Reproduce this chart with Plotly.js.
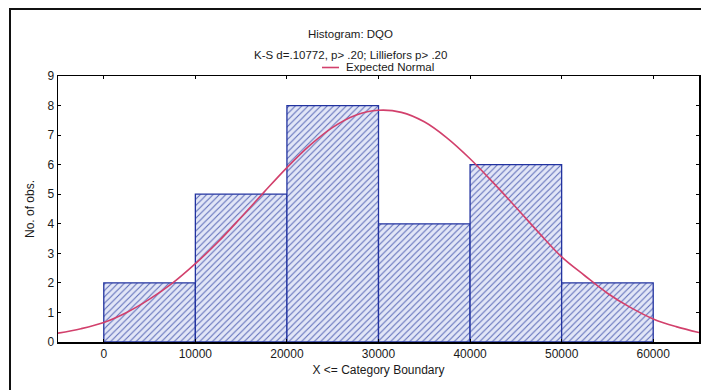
<!DOCTYPE html>
<html>
<head>
<meta charset="utf-8">
<script src="https://cdn.plot.ly/plotly-3.0.1.min.js"></script>
<style>
  html, body { margin: 0; padding: 0; background: #ffffff; }
  #chart { width: 701px; height: 390px; }
</style>
</head>
<body>
<div id="chart"></div>
<script>
// Histogram of DQO: lower bound of each category and its count
const binStarts = [0, 10000, 20000, 30000, 40000, 50000];
const binWidth = 10000;
const counts = [2, 5, 8, 4, 6, 2];

// Expected normal curve, sampled along the x axis
const normalX = [-5000, -2500, 0, 2500, 5000, 7500, 10000, 12500, 15000, 17500,
                 20000, 22500, 25000, 27500, 30000, 32500, 35000, 37500, 40000,
                 42500, 45000, 47500, 50000, 52500, 55000, 57500, 60000, 62500, 65000];
const normalY = [0.30, 0.45, 0.66, 1.00, 1.45, 1.99, 2.65, 3.39, 4.22, 5.07,
                 5.90, 6.65, 7.26, 7.67, 7.84, 7.77, 7.45, 6.90, 6.20,
                 5.40, 4.56, 3.70, 2.88, 2.25, 1.65, 1.17, 0.78, 0.52, 0.32];

const xTicks = [0, 10000, 20000, 30000, 40000, 50000, 60000];
const yTicks = [0, 1, 2, 3, 4, 5, 6, 7, 8, 9];

const titleText = 'Histogram: DQO';
const subtitleText = 'K-S d=.10772, p> .20; Lilliefors p> .20';
const legendText = 'Expected Normal';

const FONT = 'Arial, "Liberation Sans", sans-serif';
const INK = '#1a1a1a';
const CURVE = '#d2406c';

const bars = {
  type: 'bar',
  x: binStarts,
  y: counts,
  width: binWidth,
  offset: 0,
  marker: {
    color: '#e2e6f7',
    line: { color: '#2233a0', width: 1.3 },
    pattern: { shape: '/', fgcolor: '#5868b6', bgcolor: '#e2e6f7', size: 4.5, solidity: 0.22 }
  },
  showlegend: false,
  hoverinfo: 'x+y'
};

const curve = {
  type: 'scatter',
  mode: 'lines',
  x: normalX,
  y: normalY,
  line: { color: CURVE, width: 1.6, shape: 'spline', smoothing: 1 },
  name: legendText,
  showlegend: false
};

// plot area geometry in pixels, used to place the frame and header in paper units
const W = 701, H = 390;
const M = { l: 58, r: 2, t: 76, b: 48 };
const PW = W - M.l - M.r, PH = H - M.t - M.b;
const px = (x) => (x - M.l) / PW;
const py = (y) => 1 - (y - M.t) / PH;

const layout = {
  width: W,
  height: H,
  margin: M,
  paper_bgcolor: '#ffffff',
  plot_bgcolor: '#ffffff',
  font: { family: FONT, size: 12, color: INK },
  bargap: 0,
  xaxis: {
    range: [-5000, 65000],
    tickvals: xTicks,
    ticktext: xTicks.map(String),
    ticks: 'inside',
    ticklen: 3,
    tickcolor: '#000',
    showline: true,
    linecolor: '#000',
    linewidth: 1.5,
    mirror: 'ticks',
    showgrid: false,
    zeroline: false,
    tickfont: { family: FONT, size: 12, color: INK },
    title: { text: 'X <= Category Boundary', font: { family: FONT, size: 12, color: INK }, standoff: 5 }
  },
  yaxis: {
    range: [0, 9],
    tickvals: yTicks,
    ticks: 'inside',
    ticklen: 3,
    tickcolor: '#000',
    showline: true,
    linecolor: '#000',
    linewidth: 1.5,
    mirror: 'ticks',
    showgrid: false,
    zeroline: false,
    tickfont: { family: FONT, size: 12, color: INK },
    title: { text: 'No. of obs.', font: { family: FONT, size: 12, color: INK }, standoff: 10 }
  },
  shapes: [
    // outer frame around the whole graph window
    { type: 'rect', xref: 'paper', yref: 'paper',
      x0: px(10), x1: px(704), y0: py(394), y1: py(9),
      line: { color: '#111', width: 2 }, fillcolor: 'rgba(0,0,0,0)', layer: 'above' },
    // legend swatch
    { type: 'line', xref: 'paper', yref: 'paper',
      x0: px(322), x1: px(339), y0: py(67.5), y1: py(67.5),
      line: { color: CURVE, width: 1.6 } }
  ],
  annotations: [
    { text: titleText, xref: 'paper', yref: 'paper', x: px(350.5), y: py(34),
      showarrow: false, xanchor: 'center', yanchor: 'middle',
      font: { family: FONT, size: 11.5, color: INK } },
    { text: subtitleText, xref: 'paper', yref: 'paper', x: px(350.5), y: py(55),
      showarrow: false, xanchor: 'center', yanchor: 'middle',
      font: { family: FONT, size: 11.5, color: INK } },
    { text: legendText, xref: 'paper', yref: 'paper', x: px(344), y: py(67),
      showarrow: false, xanchor: 'left', yanchor: 'middle',
      font: { family: FONT, size: 11.5, color: INK } }
  ]
};

Plotly.newPlot('chart', [bars, curve], layout, { displayModeBar: false, staticPlot: true });
</script>
</body>
</html>
